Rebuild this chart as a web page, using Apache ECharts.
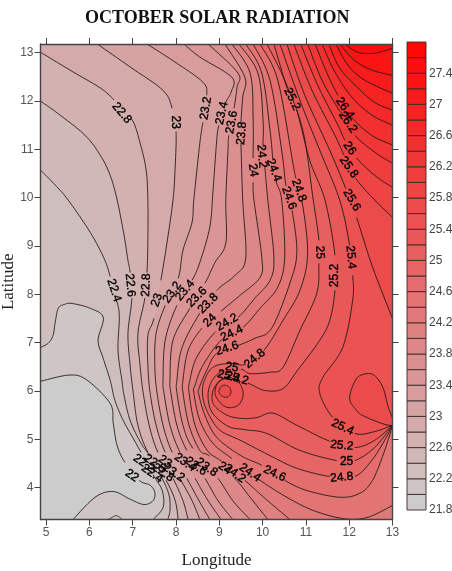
<!DOCTYPE html>
<html><head><meta charset="utf-8">
<style>html,body{margin:0;padding:0;background:#fff}#c{width:452px;height:571px}</style>
<script src="https://cdn.jsdelivr.net/npm/echarts@6/dist/echarts.min.js"></script>
</head><body><div id="c"></div>
<script>
const lonTicks=[5,6,7,8,9,10,11,12,13];
const latTicks=[4,5,6,7,8,9,10,11,12,13];
const legendTicks=[21.8,22.2,22.6,23,23.4,23.8,24.2,24.6,25,25.4,25.8,26.2,26.6,27,27.4];
const legendLevels=[21.8,22,22.2,22.4,22.6,22.8,23,23.2,23.4,23.6,23.8,24,24.2,24.4,24.6,24.8,25,25.2,25.4,25.6,25.8,26,26.2,26.4,26.6,26.8,27,27.2,27.4,27.6];
const LON_MIN=4.87,LON_MAX=13,LAT_MIN=3.34,LAT_MAX=13.18;
const TL=[LON_MIN,LAT_MAX],TR=[LON_MAX,LAT_MAX],BR=[LON_MAX,LAT_MIN];

// contour readings [lon,lat]; null = break in the line where a label sits
const c220=[[4.87,6.20],[5.55,6.33],[5.95,6.22],[6.48,5.74],[6.55,5.33],[6.64,4.87],[6.82,4.52],null,[7.15,4.15],[7.40,4.05],[7.51,3.90],[7.47,3.73],[7.26,3.65],[6.94,3.76],[6.55,3.92],[6.13,3.80],[5.62,3.34]];
const hump=[[6.43,3.34],[6.52,3.38],[6.61,3.42],[6.71,3.38],[6.75,3.34]];
const c222=[[4.87,6.90],[5.05,6.99],[5.16,7.15],[5.21,7.42],[5.28,7.71],[5.42,7.79],[5.60,7.81],[6.02,7.71],[6.32,7.52],[6.20,7.05],[6.32,6.67],[6.48,6.22],[6.59,5.80],[6.78,5.39],[7.01,5.02],[7.19,4.73],null,[7.47,4.27],[7.68,3.94],[7.70,3.59],[7.47,3.34]];
const c224=[[4.87,10.57],[5.21,10.26],[5.51,9.95],[6.02,9.28],[6.34,8.74],[6.48,8.37],null,[6.64,7.84],[6.69,7.52],[6.66,6.84],[6.75,6.22],[6.80,5.91],[6.94,5.39],[7.19,4.92],[7.40,4.65],null,[7.68,4.19],[7.84,3.84],[7.86,3.53],[7.81,3.34]];
const c226=[[4.87,12.00],[5.32,11.71],[5.90,11.29],[6.25,10.88],[6.48,10.46],[6.64,9.95],[6.80,9.22],[6.89,8.70],[6.94,8.45],null,[6.98,7.92],[6.89,7.19],[6.94,6.53],[7.01,5.97],[7.12,5.29],[7.35,4.73],null,[7.77,4.15],[7.98,3.73],[8.05,3.34]];
const c228=[[4.87,13.01],[5.55,12.64],[6.25,12.27],[6.57,12.02],null,[6.98,11.62],[7.17,11.13],[7.31,10.57],[7.35,9.95],[7.35,9.12],[7.33,8.45],null,[7.28,7.92],[7.12,7.19],[7.17,6.53],[7.24,5.97],[7.38,5.29],[7.58,4.73],null,[7.93,4.19],[8.16,3.73],[8.28,3.34]];
const c230=[[6.18,13.18],[6.98,12.68],[7.70,12.22],[7.91,11.85],null,[8.00,11.37],[7.98,10.63],[7.93,9.95],[7.79,9.06],[7.65,8.29],null,[7.49,7.50],[7.35,7.15],[7.35,6.53],[7.40,5.97],[7.54,5.29],[7.75,4.73],null,[8.09,4.19],[8.37,3.73],[8.55,3.34]];
const c232=[[7.33,13.18],[8.02,12.78],[8.62,12.39],[8.71,12.12],null,[8.62,11.56],[8.55,11.13],[8.41,9.95],[8.37,9.49],[8.16,8.91],[8.05,8.33],null,[7.75,7.77],[7.54,7.19],[7.51,6.53],[7.56,5.97],[7.70,5.29],[7.91,4.73],null,[8.25,4.19],[8.53,3.73],[8.78,3.34]];
const c234=[[8.18,13.18],[8.55,12.91],[9.29,12.49],[9.27,12.18],[9.15,11.97],null,[8.99,11.50],[8.94,11.19],[8.85,10.09],[8.78,9.39],[8.55,8.66],[8.37,8.29],null,[8.02,7.77],[7.75,7.05],[7.70,6.22],[7.72,5.97],[7.86,5.29],[8.09,4.73],null,[8.44,4.19],[8.74,3.73],[9.04,3.34]];
const c236=[[8.74,13.18],[9.43,12.58],[9.41,12.29],[9.34,11.85],null,[9.22,11.29],[9.20,10.98],[9.15,9.95],[9.15,9.06],[8.90,8.66],[8.67,8.23],null,[8.32,7.71],[7.93,7.05],[7.86,6.22],[7.88,5.97],[8.02,5.29],[8.25,4.77],null,[8.67,4.19],[8.97,3.73],[9.31,3.34]];
const c238=[[9.13,13.18],[9.59,12.49],[9.54,12.08],[9.50,11.54],null,[9.50,11.13],[9.54,9.95],[9.61,8.75],[9.36,8.39],[8.94,8.08],null,[8.55,7.61],[8.14,6.90],[8.02,6.22],[8.02,5.97],[8.16,5.29],[8.39,4.81],null,[8.97,4.19],[9.31,3.73],[9.71,3.34]];
const c240=[[9.29,13.18],[9.71,12.58],[9.78,11.66],[9.78,10.82],null,[9.78,10.32],[9.80,9.95],[9.98,8.77],[9.94,8.35],[9.48,7.98],[9.04,7.65],null,[8.60,7.30],[8.28,6.84],[8.16,6.22],[8.16,5.97],[8.30,5.29],[8.55,4.77],[8.78,4.65],null,[9.34,4.21],[9.71,3.80],[10.12,3.34]];
const c242=[[9.45,13.18],[9.89,12.58],[10.01,11.60],[10.01,11.04],null,[10.05,10.65],[10.12,9.95],[10.26,8.77],[10.17,8.29],[9.82,7.92],[9.43,7.52],null,[8.92,7.23],[8.48,6.70],[8.32,6.22],[8.30,5.97],[8.44,5.29],[8.72,4.77],[9.06,4.54],null,[9.59,4.15],[10.05,3.78],[10.63,3.34]];
const c244=[[9.61,13.18],[9.98,12.58],[10.17,11.40],[10.24,10.77],null,[10.31,10.34],[10.44,9.95],[10.51,8.77],[10.35,8.15],[9.94,7.71],[9.55,7.32],null,[9.06,7.07],[8.62,6.53],[8.44,6.12],[8.41,5.97],[8.55,5.39],[8.85,4.92],[9.29,4.60],null,[9.91,4.17],[10.56,3.80],[11.16,3.53],[11.85,3.36],[12.41,3.38],[13,3.63]];
const c246=[[9.78,13.18],[10.17,12.43],[10.44,10.98],[10.54,10.24],null,[10.68,9.74],[10.79,8.87],[10.63,8.23],[10.21,7.30],[9.82,7.09],[9.43,6.94],null,[8.94,6.78],[8.71,6.43],[8.53,6.05],[8.53,5.91],[8.67,5.49],[8.94,5.04],[9.48,4.67],[9.98,4.46],null,[10.51,4.15],[11.02,3.94],[11.78,3.80],[12.24,3.88],[12.54,4.15],[12.82,4.77],[13,5.29]];
const c248=[[9.94,13.18],[10.35,12.43],[10.70,10.71],[10.77,10.40],null,[10.91,9.93],[11.04,8.85],[10.86,8.08],[10.47,7.46],[10.03,6.84],null,[9.61,6.55],[9.24,6.57],[8.85,6.49],[8.64,6.18],[8.62,5.87],[8.74,5.54],[9.01,5.19],[9.48,4.98],[10.24,4.63],[10.79,4.40],[11.55,4.23],null,[12.13,4.23],[12.52,4.56],[12.82,4.98],[13,5.29]];
const c250=[[10.10,13.18],[10.51,12.43],[10.93,11.39],[11.16,10.01],[11.30,9.12],null,[11.30,8.64],[11.25,8.02],[10.86,7.25],[10.47,6.49],[10.17,6.39],[9.71,6.36],[9.50,6.45],null,[9.11,6.43],[8.85,6.24],[8.74,5.93],[8.83,5.56],[9.20,5.27],[9.59,5.20],[10.10,5.12],[10.86,4.77],[11.71,4.56],null,[12.13,4.56],[12.59,4.83],[13,5.29]];
const c252=[[10.26,13.18],[10.54,12.33],[10.61,12.20],null,[10.79,11.81],[11.09,10.77],[11.44,9.95],[11.67,8.81],null,[11.67,8.08],[11.55,7.46],[11.32,7.05],[10.81,6.43],[10.47,6.05],[10.05,6.01],[9.66,6.16],null,[9.18,6.26],[8.92,6.12],[8.83,5.89],[8.90,5.68],[9.20,5.49],[9.55,5.43],[9.87,5.45],[10.24,5.54],[10.79,5.29],[11.55,4.96],null,[12.13,4.83],[12.59,4.98],[13,5.29]];
const c254=[[10.40,13.18],[10.86,12.02],[11.32,10.98],[11.78,9.95],[12.01,9.01],null,[12.08,8.39],[12.08,7.88],[11.85,6.90],[11.39,6.28],[11.32,5.95],[11.62,5.45],null,[12.13,5.12],[12.59,5.16],[13,5.29]];
const peak254=[[8.90,5.97],[8.99,6.20],[9.24,6.28],[9.48,6.14],[9.55,5.91],[9.43,5.70],[9.18,5.66],[8.99,5.79]];
const c256=[[10.56,13.18],[10.97,12.13],[11.55,10.98],[11.92,10.19],null,[12.17,9.59],[12.54,8.56],[13,7.50]];
const peak256=[[8.99,5.99],[9.04,6.09],[9.13,6.12],[9.24,6.07],[9.27,5.97],[9.22,5.89],[9.13,5.87],[9.04,5.91]];
const east256=[[12.43,6.36],[12.17,6.26],[12.01,5.87],[12.13,5.64],[12.36,5.47],[13,5.29],[12.89,5.70],[12.78,6.07],[12.61,6.30]];
const c258=[[10.72,13.18],[11.14,12.22],[11.67,11.29],[11.88,10.88],null,[12.15,10.40],[12.59,9.95],[13,9.59]];
const c260=[[10.88,13.18],[11.27,12.33],[11.74,11.50],[11.90,11.19],null,[12.17,10.82],[12.59,10.46],[13,10.21]];
const c262=[[11.04,13.18],[11.37,12.43],[11.74,11.85],[11.85,11.71],null,[12.13,11.29],[12.59,10.94],[13,10.71]];
const c264=[[11.21,13.18],[11.51,12.53],[11.74,12.12],null,[12.06,11.66],[12.52,11.29],[13,11.09]];
const c266=[[11.37,13.18],[11.67,12.60],[12.06,12.08],[12.52,11.71],[13,11.50]];
const c268=[[11.53,13.18],[11.78,12.68],[12.20,12.27],[12.59,11.97],[13,11.81]];
const c270=[[11.69,13.18],[11.97,12.74],[12.36,12.43],[13,12.16]];
const c272=[[11.78,13.18],[12.11,12.85],[12.52,12.64],[13,12.53]];
const c274=[[11.90,13.18],[12.20,13.01],[12.59,12.99],[13,13.09]];

// [level, line, frame corners closing the high side, closed ring?] in painting order
const contours=[
 [22,c220,[BR,TR,TL]],[21.8,hump,[]],[22.2,c222,[BR,TR,TL]],[22.4,c224,[BR,TR,TL]],[22.6,c226,[BR,TR,TL]],[22.8,c228,[BR,TR,TL]],
 [23,c230,[BR,TR,TL]],[23.2,c232,[BR,TR,TL]],[23.4,c234,[BR,TR,TL]],[23.6,c236,[BR,TR,TL]],[23.8,c238,[BR,TR,TL]],[24,c240,[BR,TR,TL]],
 [24.2,c242,[BR,TR]],[24.4,c244,[TR]],[24.6,c246,[TR]],[24.8,c248,[TR]],[25,c250,[TR]],[25.2,c252,[TR]],[25.4,c254,[TR]],
 [25.4,peak254,[],true],[25.6,c256,[TR]],[25.6,peak256,[],true],[25.6,east256,[],true],[25.8,c258,[TR]],[26,c260,[TR]],[26.2,c262,[TR]],
 [26.4,c264,[TR]],[26.6,c266,[TR]],[26.8,c268,[TR]],[27,c270,[TR]],[27.2,c272,[TR]],[27.4,c274,[TR]]
];

const contourLabels=[['22.8',6.75,11.75],['23',7.98,11.56],['23.2',8.69,11.85],['23.4',9.06,11.75],['23.6',9.29,11.56],['23.8',9.52,11.33],['24',9.78,10.57],['24.2',9.98,10.86],['24.4',10.26,10.57],['24.6',10.61,9.99],['24.8',10.84,10.15],['25.2',10.68,12.04],['26.4',11.90,11.85],['26.2',11.97,11.56],['26',12.01,11.02],['25.8',11.99,10.63],['25.6',12.06,9.95],['25.4',12.04,8.77],['25.2',11.67,8.39],['25',11.32,8.87],['22.4',6.57,8.08],['22.6',6.94,8.19],['22.8',7.31,8.19],['23',7.56,7.88],['23.2',7.91,8.04],['23.4',8.21,8.08],['23.6',8.48,7.94],['23.8',8.74,7.81],['24',8.78,7.46],['24.2',9.18,7.42],['24.4',9.29,7.19],['24.6',9.18,6.88],['24.8',9.82,6.67],['25',9.29,6.49],['25.2',9.41,6.26],['25.4',9.22,6.30],['25.4',11.85,5.25],['25.2',11.83,4.87],['25',11.94,4.54],['24.8',11.83,4.21],['24.6',10.28,4.29],['24.4',9.71,4.31],['24.2',9.36,4.29],['24',9.13,4.40],['23.8',8.71,4.42],['23.6',8.46,4.44],['23.4',8.21,4.52],['23.2',7.95,4.31],['23',7.75,4.54],['22.8',7.70,4.31],['22.6',7.51,4.50],['22.4',7.45,4.29],['22.2',7.26,4.50],['22',6.98,4.25]];
const labelAngles=[-50,-90,80,78,80,85,-80,-85,-70,-70,-70,-65,-55,-55,-55,-55,-60,-85,90,-88,-72,-85,88,70,55,50,45,45,45,30,25,18,40,-10,-15,-15,-25,-5,0,5,-25,-35,-35,-35,-35,-35,-35,-35,-35,-35,-35,-35,-35,-35];

function shade(level){
  const t=(level-21.8)/6;
  const g=Math.round(204*(1-t));
  return 'rgb('+Math.round(204+51*t)+','+g+','+g+')';
}
function spline(p,closed){
  const n=p.length,out=[];
  if(n<3) return p.slice();
  const at=i=>closed?p[(i+n)%n]:p[Math.max(0,Math.min(n-1,i))];
  const segs=closed?n:n-1;
  for(let i=0;i<segs;i++){
    const a=at(i-1),b=at(i),c=at(i+1),d=at(i+2);
    for(let k=0;k<10;k++){
      const t=k/10,t2=t*t,t3=t2*t;
      out.push([
        0.5*(2*b[0]+(c[0]-a[0])*t+(2*a[0]-5*b[0]+4*c[0]-d[0])*t2+(3*b[0]-a[0]-3*c[0]+d[0])*t3),
        0.5*(2*b[1]+(c[1]-a[1])*t+(2*a[1]-5*b[1]+4*c[1]-d[1])*t2+(3*b[1]-a[1]-3*c[1]+d[1])*t3)
      ]);
    }
  }
  if(!closed) out.push(p[n-1]);
  else out.push(out[0]);
  return out;
}
function smoothSplit(line,api,closed){
  // spline through all readings, cut where the label breaks are
  const flat=[],breaks=new Set();
  line.forEach(q=>{ if(q===null) breaks.add(flat.length); else flat.push(api.coord(q)); });
  const dense=spline(flat,closed);
  if(flat.length<3) return {dense,parts:[dense]};
  const parts=[];let cur=[];
  for(let i=0;i<dense.length;i++){
    const s=Math.floor(i/10);
    if(breaks.has(s+1)){ // segment between point s and s+1 is a label gap
      if(cur.length){cur.push(dense[i]);parts.push(cur);cur=[];}
      continue;
    }
    cur.push(dense[i]);
  }
  if(cur.length) parts.push(cur);
  return {dense,parts};
}
const fillSeries={type:'custom',coordinateSystem:'cartesian2d',xAxisIndex:0,yAxisIndex:0,clip:true,z:2,silent:true,
  data:contours.map((c,i)=>[i]),
  renderItem(params,api){
    const c=contours[api.value(0)];
    const r=smoothSplit(c[1],api,!!c[3]);
    const pts=r.dense.concat(c[2].map(q=>api.coord(q)));
    return {type:'polygon',shape:{points:pts},style:{fill:shade(c[0]),stroke:null}};
  }};
const baseSeries={type:'custom',coordinateSystem:'cartesian2d',xAxisIndex:0,yAxisIndex:0,clip:true,z:1,silent:true,
  data:[[0]],
  renderItem(params,api){
    return {type:'polygon',shape:{points:[TL,TR,BR,[LON_MIN,LAT_MIN]].map(q=>api.coord(q))},style:{fill:shade(21.8)}};
  }};
const lineSeries={type:'custom',coordinateSystem:'cartesian2d',xAxisIndex:0,yAxisIndex:0,clip:true,z:3,silent:true,
  data:contours.map((c,i)=>[i]),
  renderItem(params,api){
    const c=contours[api.value(0)];
    const r=smoothSplit(c[1],api,!!c[3]);
    return {type:'group',children:r.parts.map(p=>({type:'polyline',shape:{points:p},style:{fill:null,stroke:'#1c1414',lineWidth:0.85}}))};
  }};
const labelSeries={type:'custom',coordinateSystem:'cartesian2d',xAxisIndex:0,yAxisIndex:0,clip:false,z:4,silent:true,
  data:contourLabels.map((c,i)=>[i]),
  renderItem(params,api){
    const i=api.value(0),c=contourLabels[i],p=api.coord([c[1],c[2]]);
    return {type:'text',x:p[0],y:p[1],rotation:labelAngles[i]*Math.PI/180,
      style:{text:c[0],fill:'#000',font:'12px "Liberation Sans"',align:'center',verticalAlign:'middle',stroke:'#000',lineWidth:0.35}};
  }};
const legendSeries={type:'custom',coordinateSystem:'cartesian2d',xAxisIndex:2,yAxisIndex:2,z:2,silent:true,
  data:legendLevels.map((l,i)=>[i]),
  renderItem(params,api){
    const l=legendLevels[api.value(0)];
    const a=api.coord([0,l+0.2]),b=api.coord([1,l]);
    return {type:'rect',shape:{x:a[0],y:a[1],width:b[0]-a[0],height:b[1]-a[1]},style:{fill:shade(l),stroke:'#3a2a2a',lineWidth:0.9}};
  }};
const axisCol='#444';
const tickFont={color:'#555',fontFamily:'"Liberation Sans"',fontSize:12};
const option={
  animation:false,backgroundColor:'#fff',
  title:{text:'OCTOBER SOLAR RADIATION',left:80,top:4,textStyle:{fontFamily:'"Liberation Serif"',fontWeight:'bold',fontSize:18,color:'#111'}},
  grid:[{left:40.5,top:44,width:352,height:475.5,outerBoundsMode:'none',containLabel:false},{left:407,top:42,width:19,height:468,outerBoundsMode:'none',containLabel:false}],
  xAxis:[
    {gridIndex:0,type:'value',position:'bottom',min:LON_MIN,max:LON_MAX,z:6,splitLine:{show:false},name:'Longitude',nameLocation:'middle',nameGap:33,
     nameTextStyle:{fontFamily:'"Liberation Serif"',fontSize:17,color:'#222'},
     axisLine:{show:true,onZero:false,lineStyle:{color:axisCol,width:1.4}},axisTick:{show:true,length:6,customValues:lonTicks,lineStyle:{color:axisCol}},
     axisLabel:{show:true,customValues:lonTicks,margin:7,...tickFont}},
    {gridIndex:0,type:'value',position:'top',min:LON_MIN,max:LON_MAX,z:6,splitLine:{show:false},
     axisLine:{show:true,onZero:false,lineStyle:{color:axisCol,width:1.4}},axisTick:{show:true,length:6,customValues:lonTicks,lineStyle:{color:axisCol}},axisLabel:{show:false}},
    {gridIndex:1,type:'value',min:0,max:1,show:false}
  ],
  yAxis:[
    {gridIndex:0,type:'value',position:'left',min:LAT_MIN,max:LAT_MAX,z:6,splitLine:{show:false},name:'Latitude',nameLocation:'middle',nameGap:23,nameRotate:90,nameMoveOverlap:false,
     nameTextStyle:{fontFamily:'"Liberation Serif"',fontSize:17,color:'#222'},
     axisLine:{show:true,onZero:false,lineStyle:{color:axisCol,width:1.4}},axisTick:{show:true,length:6,customValues:latTicks,lineStyle:{color:axisCol}},
     axisLabel:{show:true,customValues:latTicks,margin:7,...tickFont}},
    {gridIndex:0,type:'value',position:'right',min:LAT_MIN,max:LAT_MAX,z:6,splitLine:{show:false},
     axisLine:{show:true,onZero:false,lineStyle:{color:axisCol,width:1.4}},axisTick:{show:true,length:6,customValues:latTicks,lineStyle:{color:axisCol}},axisLabel:{show:false}},
    {gridIndex:1,type:'value',position:'right',min:21.8,max:27.8,splitLine:{show:false},axisLine:{show:false},axisTick:{show:false},
     axisLabel:{show:true,customValues:legendTicks,margin:3,color:'#444',fontFamily:'"Liberation Sans"',fontSize:12,formatter:v=>String(v)}}
  ],
  series:[baseSeries,fillSeries,lineSeries,labelSeries,legendSeries]
};
echarts.init(document.getElementById('c'),null,{renderer:'canvas'}).setOption(option);
</script></body></html>
